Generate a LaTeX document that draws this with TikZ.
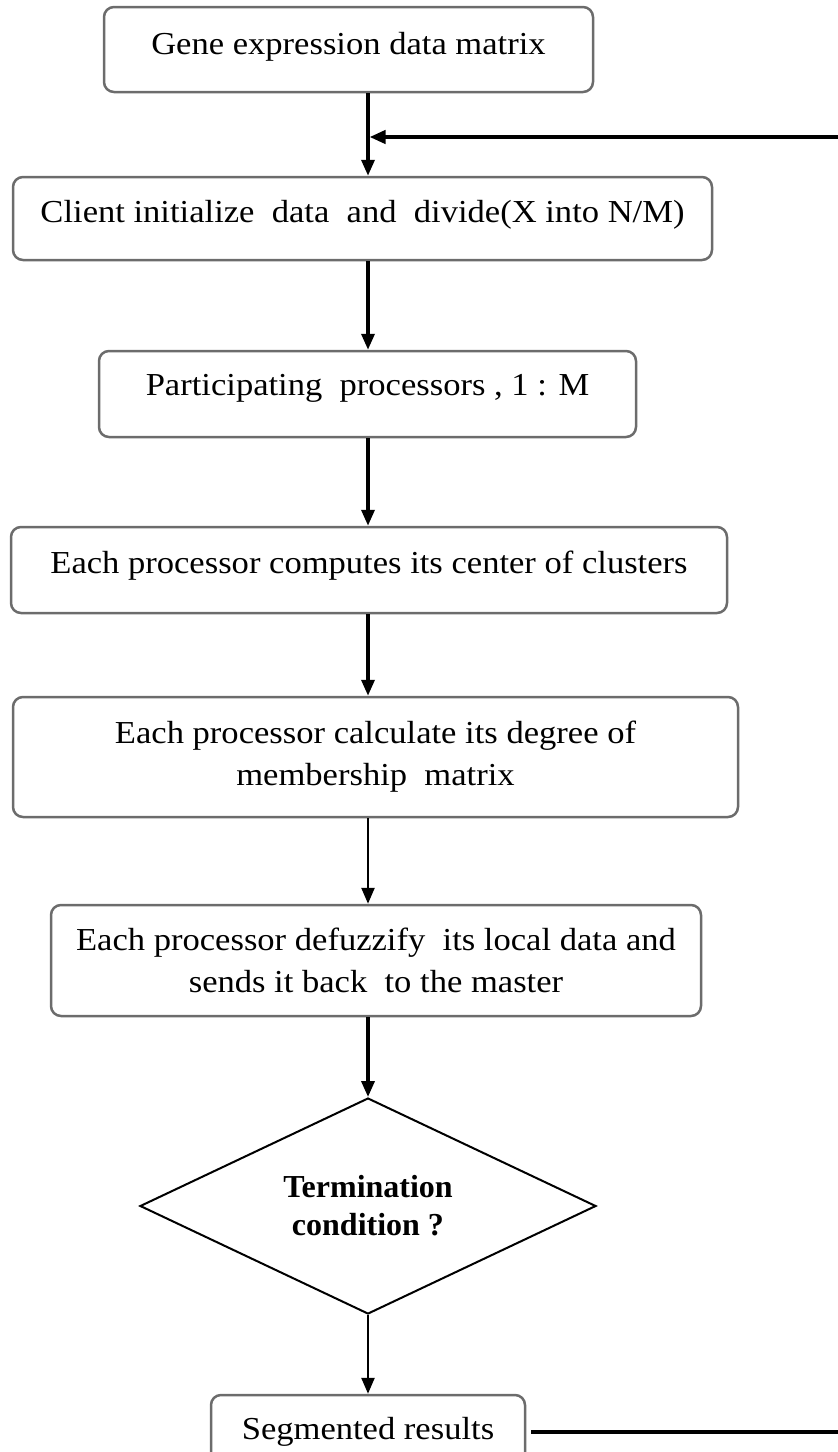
\documentclass[tikz,border=0pt]{standalone}
\usepackage{fontspec}
\setmainfont{Liberation Serif}[FakeStretch=1.08]
\newfontfamily\rombofont{Liberation Serif}
\usetikzlibrary{positioning, shapes.geometric, arrows.meta}

\begin{document}
\begin{tikzpicture}[x=1pt, y=1pt, node distance=176pt,
    caja/.style={draw=gray!85!black, line width=2.5pt, rectangle, rounded corners=10pt, align=center, inner sep=0pt, font=\fontsize{32}{42}\selectfont},
    flecha/.style={-{Triangle[length=16pt,width=13pt]}, line width=3.5pt}]
    \useasboundingbox (0,0) rectangle (838,-1452);
    \coordinate (eje) at (368,0);

    % Cajas del proceso
    \node (gene) at (348.5,-49.5) [caja, text depth=12pt, minimum width=489pt, minimum height=85pt] 
    {Gene expression data matrix};

    \node (client) [below of=gene, yshift=7pt, xshift=14pt, caja, text depth=14pt, minimum width=699pt, minimum height=83pt] 
    {Client initialize\ \ data\ \ and\ \ divide(X into N/M)};

    \node (part) [below of=client, yshift=0.5pt, xshift=5pt, caja, text depth=18pt, minimum width=537pt, minimum height=86pt] 
    {Participating\ \ processors , 1 : M};

    \node (comp) [below of=part, xshift=1.5pt, caja, text depth=15pt, minimum width=716pt, minimum height=86pt] 
    {Each processor computes its center of clusters};

    \node (calc) [below of=comp, yshift=-11pt, xshift=6.5pt, caja, minimum width=725pt, minimum height=120pt] 
    {Each processor calculate its degree of \\ membership\ \ matrix};

    \node (defuz) [below of=calc, yshift=-27.5pt, xshift=0.5pt, caja, minimum width=650pt, minimum height=111pt] 
    {Each processor defuzzify\ \ its local data and \\ sends it back\ \ to the master};

    \node (term) [below of=defuz, yshift=-69.5pt, xshift=-8pt, draw, diamond, aspect=2.1, inner sep=0pt, minimum width=456pt, minimum height=216pt, line width=2pt, align=center, font=\rombofont\bfseries\fontsize{32}{38}\selectfont] 
    {Termination \\ condition ?};

    \node (seg) [below of=term, yshift=-50pt, caja, minimum width=314pt, minimum height=74pt] 
    {Segmented results};

    % Flechas de conexion
    \draw[flecha] (gene.south -| eje) -- (client.north -| eje);
    \draw[flecha] (client.south -| eje) -- (part.north -| eje);
    \draw[flecha] (part.south -| eje) -- (comp.north -| eje);
    \draw[flecha] (comp.south -| eje) -- (calc.north -| eje);
    \draw[flecha, line width=2.5pt] (calc.south -| eje) -- (defuz.north -| eje);
    \draw[flecha] (defuz.south -| eje) -- (term.north);
    \draw[flecha, line width=2.5pt] (term.south) -- (seg.north);

    % Lazo de retorno
    \coordinate (vuelta) at (860,-137);
    \coordinate (union) at (369.5,-137);
    \draw[flecha, line width=4pt] ([xshift=5pt]seg.east) -| (vuelta) -- (union);
\end{tikzpicture}
\end{document}
